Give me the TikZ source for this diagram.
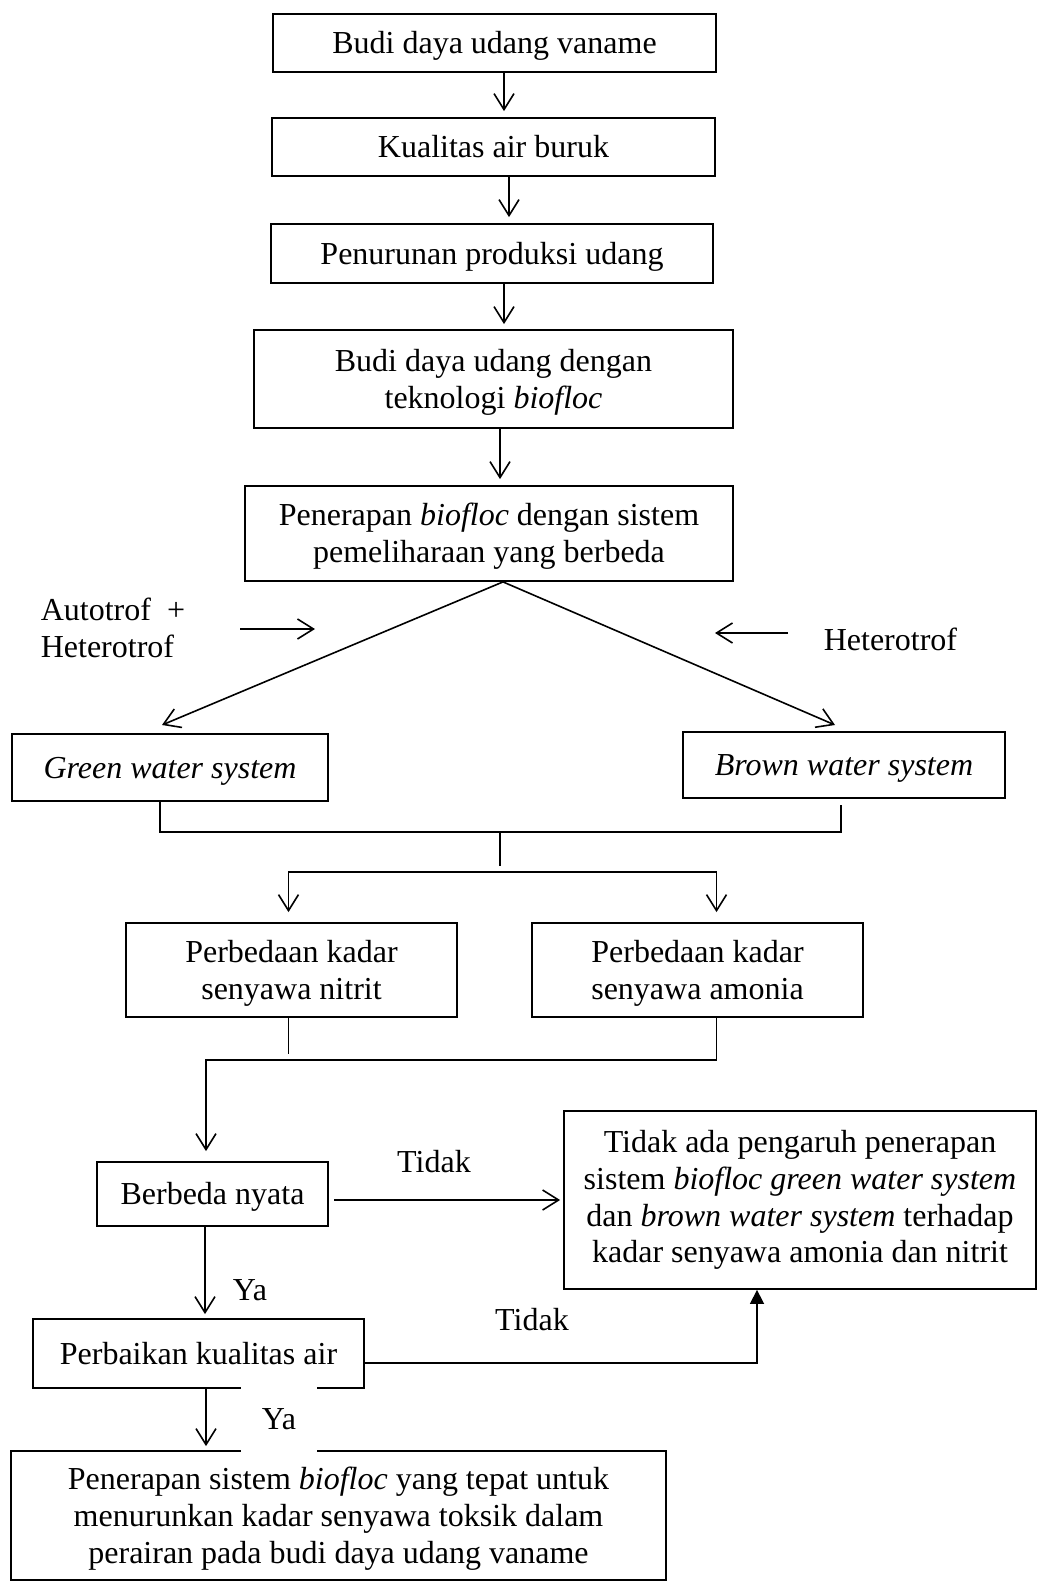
\documentclass[tikz,border=0pt]{standalone}
\usepackage{fontspec}
\setmainfont{Liberation Serif}
\usepackage{tikz}
\usetikzlibrary{arrows.meta}
\newcommand{\st}{\rule[-7pt]{0pt}{35.5pt}}

\begin{document}
\begin{tikzpicture}[
            x = 1pt, y = -1pt, % picture units, y going down
            > = {Straight Barb[length=16pt,width=20pt]}, % arrow head style
            shorten > = 6pt, % don't touch arrow head to node
            line width = 1.6pt, % line style
            font = \fontsize{32}{36.8}\selectfont,
            box/.style = {draw=black, line width=1.8pt, align=center, inner sep=0pt}
        ]
\useasboundingbox (0,0) rectangle (1038,1582);

\node[box, minimum width=443pt, minimum height=58pt] (BD) at (494.5,43) {\st Budi daya udang vaname};
\node[box, minimum width=443pt, minimum height=58pt] (KA) at (493.5,147) {\st Kualitas air buruk};
\node[box, minimum width=442pt, minimum height=59pt] (PP) at (492,253.5) {\st Penurunan produksi udang};
\node[box, minimum width=479pt, minimum height=98pt] (BT) at (493.5,379) {\st Budi daya udang dengan\\teknologi \textit{biofloc}\st};
\node[box, minimum width=488pt, minimum height=95pt] (PB) at (489,533.5) {\st Penerapan \textit{biofloc} dengan sistem\\pemeliharaan yang berbeda\st};
\node[box, minimum width=316pt, minimum height=67pt] (G) at (170,767.5) {\st\textit{Green water system}};
\node[box, minimum width=322pt, minimum height=66pt] (Br) at (844,765) {\st\textit{Brown water system}};
\node[box, minimum width=331pt, minimum height=94pt] (N) at (291.5,970) {\st Perbedaan kadar\\senyawa nitrit\st};
\node[box, minimum width=331pt, minimum height=94pt] (A) at (697.5,970) {\st Perbedaan kadar\\senyawa amonia\st};
\node[box, minimum width=231pt, minimum height=64pt] (BN) at (212.5,1194) {\st Berbeda nyata};
\node[box, minimum width=472pt, minimum height=178pt] (T) at (800,1200) {Tidak ada pengaruh penerapan\\sistem \textit{biofloc green water system}\\dan \textit{brown water system} terhadap\\kadar senyawa amonia dan nitrit};
\node[box, minimum width=331pt, minimum height=69pt] (PK) at (198.5,1353.5) {\st Perbaikan kualitas air};
\node[box, minimum width=655pt, minimum height=129pt] (PS) at (338.5,1515.5) {\st Penerapan sistem \textit{biofloc} yang tepat untuk\\menurunkan kadar senyawa toksik dalam\\perairan pada budi daya udang vaname\st};

\node[anchor=west, align=left, inner sep=0pt] (AH) at (40,628) {Autotrof~~+\\Heterotrof};
\node[anchor=west, inner sep=0pt] (H) at (823,639) {Heterotrof};
\node (T1) at (434,1162) {Tidak};
\node (Y1) at (250,1290) {Ya};
\node (T2) at (532,1320) {Tidak};

\coordinate (gw) at (162,725);
\coordinate (bw) at (835,725);
\coordinate (a1) at (240,629);
\coordinate (a2) at (315,629);
\coordinate (h1) at (788,633);
\coordinate (h2) at (715,633);
\coordinate (m1) at (500,832);
\coordinate (m2) at (500,872);
\coordinate (c3) at (206,1060);
\coordinate (c4) at (334,1200);
\coordinate (c5) at (364,1363);

 \path [->] ([xshift=9.5pt]BD.south) edge ([xshift=9.5pt]BD.south |- KA.north);
 \path [->] ([xshift=15.5pt]KA.south) edge ([xshift=15.5pt]KA.south |- PP.north);
 \path [->, shorten >=5pt] ([xshift=12pt]PP.south) edge ([xshift=12pt]PP.south |- BT.north);
 \path [->] ([xshift=6.5pt]BT.south) edge ([xshift=6.5pt]BT.south |- PB.north);

 \path [->, shorten >=0pt] ([xshift=14pt]PB.south) edge (gw);
 \path [->, shorten >=0pt] ([xshift=14pt]PB.south) edge (bw);
 \path [->, shorten >=0pt] (a1) edge (a2);
 \path [->, shorten >=0pt] (h1) edge (h2);

\draw ([xshift=-10pt]G.south) |- (m1) -| ([xshift=-3pt]Br.south);
\draw (m1) -- (m2);
\draw [->, shorten >=10pt] (m2) -| ([xshift=-3pt]N.north);
\draw [->, shorten >=10pt] (m2) -| ([xshift=19pt]A.north);

\draw ([xshift=-3pt]N.south) -- ([xshift=-3pt]N.south |- c3);
\draw [->, shorten >=10pt] ([xshift=19pt]A.south) |- (c3) -- (c3 |- BN.north);

 \path [->, shorten >=3pt] (c4) edge (c4 -| T.west);
\draw [->, shorten >=4pt] ([xshift=-7.5pt]BN.south) -- ([xshift=-7.5pt]BN.south |- PK.north);
\draw [-{Triangle[length=14pt,width=14pt]}, shorten >=0pt] (c5) -| ([xshift=-43pt]T.south);
\draw [->, shorten >=4pt] ([xshift=7.5pt]PK.south) -- ([xshift=7.5pt]PK.south |- PS.north);

\node[fill=white, minimum width=76pt, minimum height=66pt] (Y2) at (279,1419.5) {Ya};

\end{tikzpicture}
\end{document}
